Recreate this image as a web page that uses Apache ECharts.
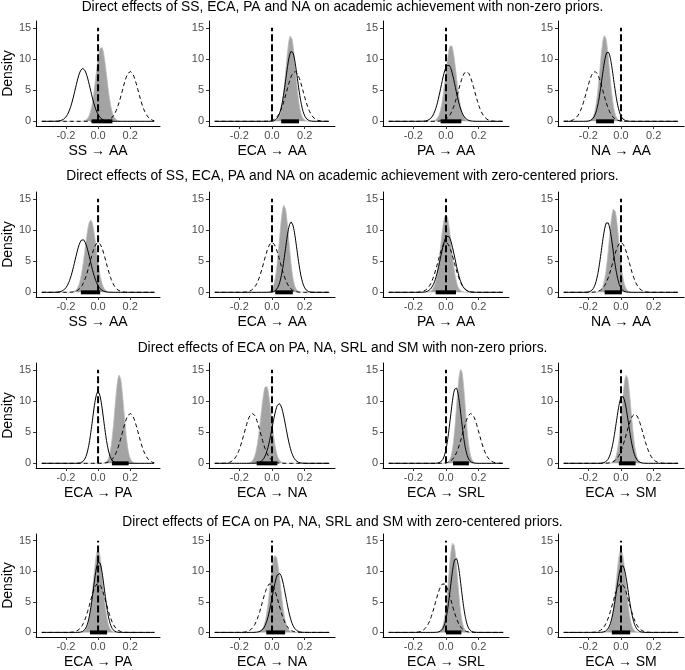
<!DOCTYPE html>
<html><head><meta charset="utf-8">
<script src="https://cdn.jsdelivr.net/npm/echarts@6/dist/echarts.min.js"></script>
<style>html,body{margin:0;padding:0;background:#fff}#c{width:685px;height:670px}</style>
</head><body><div id="c"></div>
<script>
// ---- data ----
const rowTitles = [
  'Direct effects of SS, ECA, PA and NA on academic achievement with non-zero priors.',
  'Direct effects of SS, ECA, PA and NA on academic achievement with zero-centered priors.',
  'Direct effects of ECA on PA, NA, SRL and SM with non-zero priors.',
  'Direct effects of ECA on PA, NA, SRL and SM with zero-centered priors.'
];
const panelLabels = [
  'SS → AA', 'ECA → AA', 'PA → AA', 'NA → AA',
  'SS → AA', 'ECA → AA', 'PA → AA', 'NA → AA',
  'ECA → PA', 'ECA → NA', 'ECA → SRL', 'ECA → SM',
  'ECA → PA', 'ECA → NA', 'ECA → SRL', 'ECA → SM'
];
const xTicks = [-0.2, 0, 0.2];
const yTicks = [0, 5, 10, 15];
// posterior (grey filled density): location and peak height
const postMean  = [0.02, 0.114, 0.03, -0.10,   -0.046, 0.074, 0.0, -0.043,   0.132, -0.036, 0.091, 0.033,   0.0, 0.02, 0.043, 0.0];
const postPeak  = [12.0, 13.8, 12.3, 13.8,     11.6, 14.0, 12.5, 13.5,       14.2, 12.5, 15.1, 14.2,        13.5, 12.7, 14.7, 13.5];
// solid curve
const solidMean = [-0.095, 0.12, 0.013, -0.081, -0.096, 0.117, 0.01, -0.084, 0.0, 0.043, 0.06, 0.008,     0.005, 0.043, 0.06, 0.008];
const solidPeak = [8.5, 11.3, 9.1, 11.2,       8.5, 11.3, 9.1, 11.3,         11.5, 9.6, 12.2, 10.8,        11.6, 9.7, 12.2, 11.0];
// dashed curve (prior)
const priorMean = [0.2, 0.14, 0.125, -0.16,    0, 0, 0, 0,                   0.2, -0.12, 0.152, 0.084,     0, -0.01, -0.015, 0];
const priorPeak = [8, 8, 8, 8,                 8, 8, 8, 8,                   8, 8, 8, 7.9,                 8, 8, 8, 8];
// credible interval bar
const ciLow  = [-0.04, 0.056, -0.033, -0.152,  -0.107, 0.02, -0.063, -0.10,  0.086, -0.094, 0.043, -0.013,  -0.05, -0.035, 0.0, -0.056];
const ciHigh = [0.089, 0.165, 0.094, -0.043,   0.013, 0.127, 0.061, 0.005,   0.19, 0.033, 0.14, 0.089,     0.056, 0.08, 0.094, 0.056];
const refLineTop = 15;
const xRange = [-0.35, 0.35];

// ---- layout ----
const colLeft = [34, 209, 383, 558];
const rowTop = [21, 192, 363, 534];
const titleY = [8, 177, 349, 523];
const W = 126, H = 105;
const FONT = '"Liberation Sans", Arial, sans-serif';

function curve(mean, peak) {
  const sd = 1 / (peak * Math.sqrt(2 * Math.PI));
  const pts = [];
  const n = 280;
  for (let k = 0; k <= n; k++) {
    const x = xRange[0] + (xRange[1] - xRange[0]) * k / n;
    pts.push([x, peak * Math.exp(-0.5 * ((x - mean) / sd) ** 2)]);
  }
  return pts;
}

const grid = [], xAxis = [], yAxis = [], series = [], graphic = [];
for (let i = 0; i < 16; i++) {
  const r = Math.floor(i / 4), c = i % 4;
  grid.push({ left: colLeft[c], top: rowTop[r], width: W, height: H });
  xAxis.push({
    type: 'value', gridIndex: i, min: -0.385, max: 0.385,
    name: panelLabels[i], nameLocation: 'middle', nameGap: 18,
    nameTextStyle: { fontSize: 14, color: '#000', fontFamily: FONT },
    axisLine: { show: true, onZero: false, lineStyle: { color: '#000', width: 1 } },
    axisTick: { show: true, customValues: xTicks, length: 3, lineStyle: { color: '#333' } },
    axisLabel: { customValues: xTicks, formatter: v => v.toFixed(1), color: '#4d4d4d', fontSize: 11, margin: 4, fontFamily: FONT },
    splitLine: { show: false }
  });
  yAxis.push({
    type: 'value', gridIndex: i, min: -0.75, max: 16.1,
    name: c === 0 ? 'Density' : '', nameLocation: 'middle', nameGap: 20,
    nameTextStyle: { fontSize: 14, color: '#000', fontFamily: FONT },
    axisLine: { show: true, onZero: false, lineStyle: { color: '#000', width: 1 } },
    axisTick: { show: true, customValues: yTicks, length: 3, lineStyle: { color: '#333' } },
    axisLabel: { customValues: yTicks, color: '#4d4d4d', fontSize: 11, margin: 5, fontFamily: FONT },
    splitLine: { show: false }
  });
  const common = { xAxisIndex: i, yAxisIndex: i, type: 'line', symbol: 'none', silent: true, animation: false };
  series.push(Object.assign({}, common, {
    data: curve(postMean[i], postPeak[i]),
    lineStyle: { color: '#bdbdbd', width: 0.8 },
    areaStyle: { color: '#a3a3a3', opacity: 1 }
  }));
  series.push(Object.assign({}, common, {
    data: curve(solidMean[i], solidPeak[i]),
    lineStyle: { color: '#000', width: 1 }
  }));
  series.push(Object.assign({}, common, {
    data: curve(priorMean[i], priorPeak[i]),
    lineStyle: { color: '#000', width: 1, type: [4, 3] }
  }));
  series.push(Object.assign({}, common, {
    data: [[0, 0], [0, refLineTop]],
    lineStyle: { color: '#000', width: 2, type: [7, 3] }
  }));
  series.push(Object.assign({}, common, {
    data: [[ciLow[i], 0], [ciHigh[i], 0]],
    lineStyle: { color: '#000', width: 4, cap: 'butt' }
  }));
}
for (let r = 0; r < 4; r++) {
  graphic.push({
    type: 'text', left: 'center', top: titleY[r] - 8,
    style: { text: rowTitles[r], fontSize: 13.8, fill: '#000', fontFamily: FONT }
  });
}

const chart = echarts.init(document.getElementById('c'), null, { renderer: 'canvas' });
chart.setOption({ animation: false, backgroundColor: '#fff', grid, xAxis, yAxis, series, graphic });
</script>
</body></html>
